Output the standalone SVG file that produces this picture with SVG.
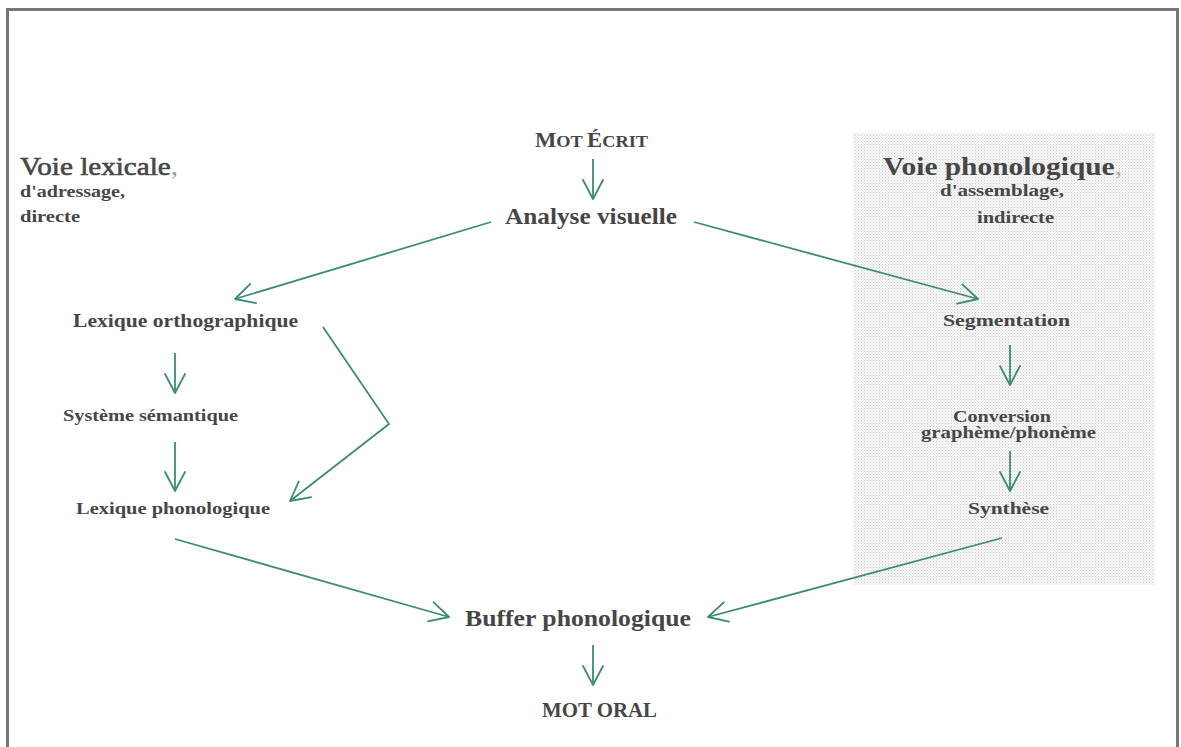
<svg xmlns="http://www.w3.org/2000/svg" width="1181" height="747" viewBox="0 0 1181 747">
<defs>
<pattern id="dots" width="3" height="3" patternUnits="userSpaceOnUse">
<rect width="3" height="3" fill="#f6f6f6"/>
<rect x="0" y="0" width="1" height="1" fill="#cdcdcd"/>
<rect x="1.5" y="1.5" width="1" height="1" fill="#e0e0e0"/>
</pattern>
<marker id="arr" viewBox="0 0 22 22" refX="20" refY="11" markerWidth="22" markerHeight="22" markerUnits="userSpaceOnUse" orient="auto">
<path d="M1,1 L20,11 L1,21" fill="none" stroke="#3e8c6f" stroke-width="1.8" stroke-linejoin="round" stroke-linecap="round"/>
</marker>
<style>
.t{font-family:"Liberation Serif","Times New Roman",serif;font-weight:bold;fill:#464646}
.r{font-weight:normal}
.m{stroke:#464646;stroke-width:0.6}
.c{stroke:#3e8c6f;stroke-width:1.8;fill:none;marker-end:url(#arr)}
</style>
</defs>
<rect x="0" y="0" width="1181" height="747" fill="#fff"/>
<rect x="7.5" y="9.5" width="1170" height="760" fill="none" stroke="#767676" stroke-width="3"/>
<rect id="zone-phono" x="853" y="133" width="302" height="452" fill="url(#dots)"/>

<g id="connectors">
<line class="c" x1="593" y1="159" x2="593" y2="199"/>
<line class="c" x1="491" y1="222" x2="235" y2="299"/>
<line class="c" x1="694" y1="222" x2="978" y2="299"/>
<line class="c" x1="175" y1="353" x2="175" y2="393"/>
<line class="c" x1="175" y1="442" x2="175" y2="491"/>
<polyline class="c" points="323,327 389,424 290,501"/>
<line class="c" x1="175" y1="539" x2="449" y2="617"/>
<line class="c" x1="1010" y1="345" x2="1010" y2="385"/>
<line class="c" x1="1010" y1="451" x2="1010" y2="491"/>
<line class="c" x1="1002" y1="538" x2="708" y2="617"/>
<line class="c" x1="593" y1="645" x2="593" y2="685"/>
</g>

<g id="voie-lexicale">
<text class="t r" x="20" y="175" font-size="25" textLength="158" lengthAdjust="spacingAndGlyphs"><tspan class="m">Voie lexicale</tspan><tspan fill="#9a9a9a">,</tspan></text>
<text class="t" x="20" y="197" font-size="16" textLength="105" lengthAdjust="spacingAndGlyphs">d'adressage,</text>
<text class="t" x="20" y="222" font-size="16" textLength="60" lengthAdjust="spacingAndGlyphs">directe</text>
</g>
<g id="voie-phonologique">
<text class="t" x="883" y="175" font-size="25" textLength="239" lengthAdjust="spacingAndGlyphs">Voie phonologique<tspan class="r" fill="#b0b0b0">,</tspan></text>
<text class="t" x="940" y="196" font-size="16" textLength="124" lengthAdjust="spacingAndGlyphs">d'assemblage,</text>
<text class="t" x="977" y="223" font-size="16" textLength="77" lengthAdjust="spacingAndGlyphs">indirecte</text>
</g>
<g id="mot-ecrit">
<text class="t" x="535" y="147" textLength="113" lengthAdjust="spacingAndGlyphs"><tspan font-size="21">M</tspan><tspan font-size="17">OT </tspan><tspan font-size="21">É</tspan><tspan font-size="17">CRIT</tspan></text>
</g>
<g id="analyse-visuelle">
<text class="t" x="505" y="224" font-size="24" textLength="172" lengthAdjust="spacingAndGlyphs">Analyse visuelle</text>
</g>
<g id="lexique-ortho">
<text class="t" x="73" y="327" font-size="19" textLength="225" lengthAdjust="spacingAndGlyphs">Lexique orthographique</text>
</g>
<g id="systeme-semantique">
<text class="t" x="63" y="421" font-size="17" textLength="175" lengthAdjust="spacingAndGlyphs">Système sémantique</text>
</g>
<g id="lexique-phono">
<text class="t" x="76" y="514" font-size="17" textLength="194" lengthAdjust="spacingAndGlyphs">Lexique phonologique</text>
</g>
<g id="segmentation">
<text class="t" x="943" y="326" font-size="17" textLength="127" lengthAdjust="spacingAndGlyphs">Segmentation</text>
</g>
<g id="conversion">
<text class="t" x="953" y="422" font-size="16" textLength="98" lengthAdjust="spacingAndGlyphs">Conversion</text>
<text class="t" x="921" y="438" font-size="16" textLength="175" lengthAdjust="spacingAndGlyphs">graphème/phonème</text>
</g>
<g id="synthese">
<text class="t" x="968" y="514" font-size="17" textLength="81" lengthAdjust="spacingAndGlyphs">Synthèse</text>
</g>
<g id="buffer">
<text class="t" x="465" y="626" font-size="23" textLength="226" lengthAdjust="spacingAndGlyphs">Buffer phonologique</text>
</g>
<g id="mot-oral">
<text class="t" x="542" y="717" font-size="20" textLength="115" lengthAdjust="spacingAndGlyphs">MOT ORAL</text>
</g>
</svg>
